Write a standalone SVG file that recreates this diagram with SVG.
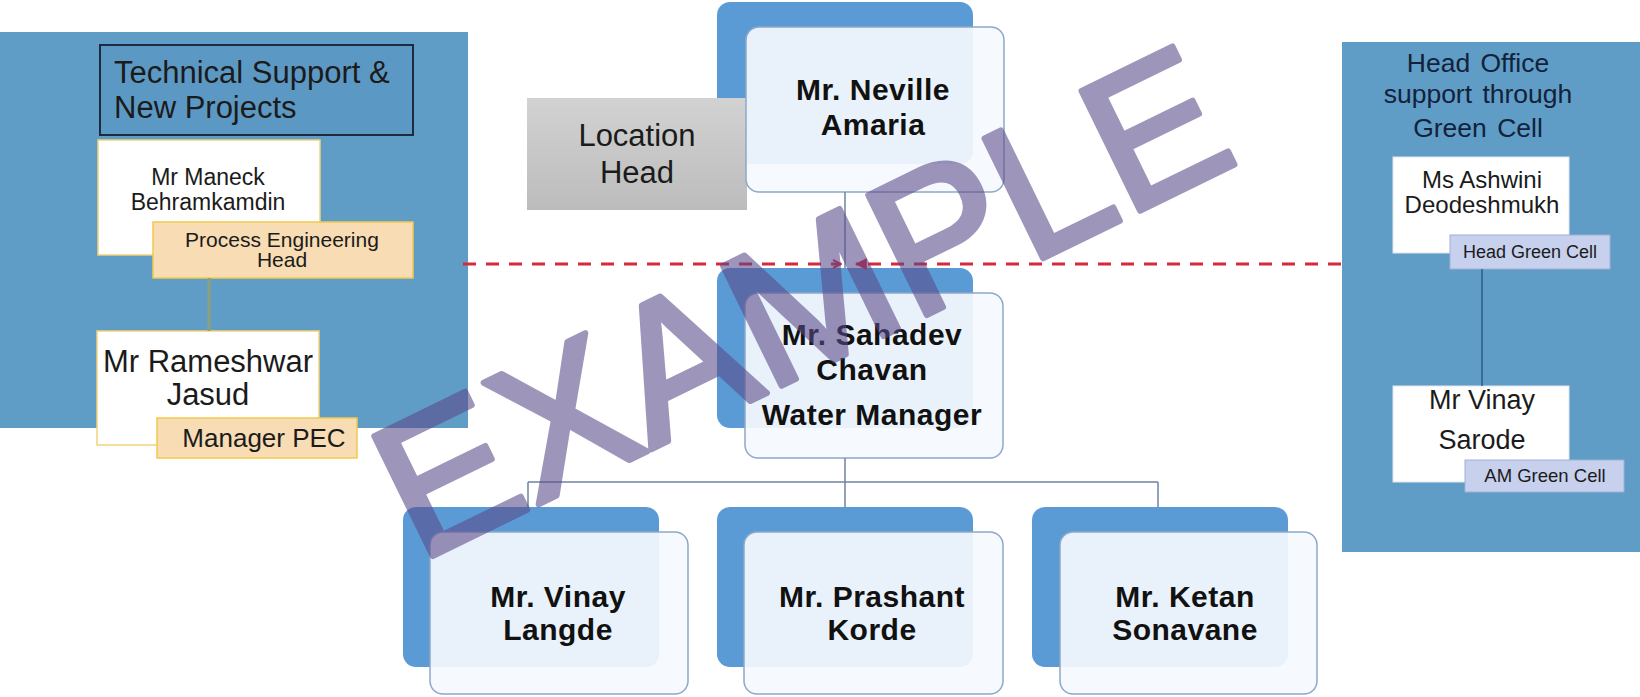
<svg xmlns="http://www.w3.org/2000/svg" width="1640" height="697" viewBox="0 0 1640 697">
  <defs>
    <style>
      .panel { fill: #5f9dc7; }
      .back { fill: #5b9bd5; }
      .front { fill: #f5f9fd; fill-opacity: 0.92; stroke: #8fa8c8; stroke-width: 1.5; }
      .card { fill: #ffffff; stroke: #f2d27a; stroke-width: 1.5; }
      .tag-orange { fill: #f7dcb4; stroke: #f2c94c; stroke-width: 1.5; }
      .tag-lilac { fill: #c7d0ec; stroke: #9fb0d8; stroke-width: 1; }
      .wcard { fill: #ffffff; stroke: #dfe6ef; stroke-width: 1; }
      .sans { font-family: "Liberation Sans", Arial, sans-serif; fill: #1b1b1b; }
      .mid { text-anchor: middle; }
      .bold { font-weight: bold; font-size: 30px; letter-spacing: 0.5px; fill: #111111; }
      .navy { fill: #13223a; word-spacing: 3px; }
      .link { fill: none; stroke: #6d84a3; stroke-width: 1.5; }
      .dash { fill: none; stroke: #d42a3c; stroke-width: 3; stroke-dasharray: 13 10; }
      .dash-shadow { fill: none; stroke: #9a9a9a; stroke-width: 4; stroke-dasharray: 13 10; }
    </style>
    <linearGradient id="grayFill" x1="0" y1="0" x2="0" y2="1">
      <stop offset="0" stop-color="#d2d2d2"/>
      <stop offset="1" stop-color="#bcbcbc"/>
    </linearGradient>
    <filter id="soft" x="-5%" y="-100%" width="110%" height="300%">
      <feGaussianBlur stdDeviation="0.6"/>
    </filter>
    <marker id="chevron" viewBox="0 0 10 10" refX="9" refY="5" markerWidth="10" markerHeight="10" markerUnits="userSpaceOnUse" orient="auto">
      <path d="M1,1 L9,5 L1,9" fill="none" stroke="#d42a3c" stroke-width="2"/>
    </marker>
    <marker id="tri" viewBox="0 0 10 10" refX="9" refY="5" markerWidth="12" markerHeight="12" markerUnits="userSpaceOnUse" orient="auto">
      <path d="M0,0 L10,5 L0,10 Z" fill="#e01e2e"/>
    </marker>
  </defs>

  <rect width="1640" height="697" fill="#ffffff"/>

  <!-- Side panels -->
  <g id="panel-technical">
    <rect class="panel" x="0" y="32" width="468" height="396"/>
    <rect x="100" y="45" width="313" height="90" fill="#5b99c4" stroke="#1c2b3f" stroke-width="2"/>
    <text class="sans" font-size="31" x="114" y="83">Technical Support &amp;</text>
    <text class="sans" font-size="31" x="114" y="118">New Projects</text>
  </g>
  <g id="panel-head-office">
    <rect class="panel" x="1342" y="42" width="298" height="510"/>
    <text class="sans navy mid" font-size="26.5" x="1478" y="72">Head Office</text>
    <text class="sans navy mid" font-size="26.5" x="1478" y="103">support through</text>
    <text class="sans navy mid" font-size="26.5" x="1478" y="137">Green Cell</text>
  </g>

  <!-- Left panel members -->
  <g id="node-maneck">
    <rect class="card" x="98" y="140" width="222" height="115"/>
    <text class="sans mid" font-size="23" x="208" y="185">Mr Maneck</text>
    <text class="sans mid" font-size="23" x="208" y="210">Behramkamdin</text>
    <rect class="tag-orange" x="153" y="222" width="260" height="56"/>
    <text class="sans mid" font-size="21" x="282" y="247">Process Engineering</text>
    <text class="sans mid" font-size="21" x="282" y="267">Head</text>
  </g>
  <g id="node-rameshwar">
    <rect class="card" x="97" y="331" width="222" height="114"/>
    <text class="sans mid" font-size="31" x="208" y="372">Mr Rameshwar</text>
    <text class="sans mid" font-size="31" x="208" y="405">Jasud</text>
    <rect class="tag-orange" x="157" y="418" width="200" height="40"/>
    <text class="sans mid" font-size="26" x="264" y="447">Manager PEC</text>
  </g>

  <!-- Right panel members -->
  <g id="node-ashwini">
    <rect class="wcard" x="1393" y="157" width="176" height="96"/>
    <text class="sans mid" font-size="24" x="1482" y="188">Ms Ashwini</text>
    <text class="sans mid" font-size="24" x="1482" y="213">Deodeshmukh</text>
    <rect class="tag-lilac" x="1450" y="235" width="160" height="34"/>
    <text class="sans mid" font-size="18" x="1530" y="258">Head Green Cell</text>
  </g>
  <g id="node-vinay-sarode">
    <rect class="wcard" x="1393" y="386" width="176" height="96"/>
    <text class="sans mid" font-size="27" x="1482" y="409">Mr Vinay</text>
    <text class="sans mid" font-size="27" x="1482" y="449">Sarode</text>
    <rect class="tag-lilac" x="1465" y="460" width="159" height="32"/>
    <text class="sans mid" font-size="18.5" x="1545" y="482">AM Green Cell</text>
  </g>

  <!-- Location head -->
  <g id="node-neville">
    <rect class="back" x="717" y="2" width="256" height="162" rx="13"/>
    <rect x="527" y="98" width="220" height="112" fill="url(#grayFill)"/>
    <text class="sans mid" font-size="31" x="637" y="146">Location</text>
    <text class="sans mid" font-size="31" x="637" y="183">Head</text>
    <rect class="front" x="746" y="27" width="258" height="165" rx="13"/>
    <text class="sans bold mid" x="873" y="100">Mr. Neville</text>
    <text class="sans bold mid" x="873" y="135">Amaria</text>
  </g>

  <g id="node-sahadev">
    <rect class="back" x="717" y="268" width="256" height="160" rx="13"/>
    <rect class="front" x="745" y="293" width="258" height="165" rx="13"/>
    <text class="sans bold mid" x="872" y="345">Mr. Sahadev</text>
    <text class="sans bold mid" x="872" y="380">Chavan</text>
    <text class="sans bold mid" x="872" y="425">Water Manager</text>
  </g>

  <g id="node-vinay-langde">
    <rect class="back" x="403" y="507" width="256" height="160" rx="13"/>
    <rect class="front" x="430" y="532" width="258" height="162" rx="13"/>
    <text class="sans bold mid" x="558" y="607">Mr. Vinay</text>
    <text class="sans bold mid" x="558" y="640">Langde</text>
  </g>
  <g id="node-prashant">
    <rect class="back" x="717" y="507" width="256" height="160" rx="13"/>
    <rect class="front" x="744" y="532" width="259" height="162" rx="13"/>
    <text class="sans bold mid" x="872" y="607">Mr. Prashant</text>
    <text class="sans bold mid" x="872" y="640">Korde</text>
  </g>
  <g id="node-ketan">
    <rect class="back" x="1032" y="507" width="256" height="160" rx="13"/>
    <rect class="front" x="1060" y="532" width="257" height="162" rx="13"/>
    <text class="sans bold mid" x="1185" y="607">Mr. Ketan</text>
    <text class="sans bold mid" x="1185" y="640">Sonavane</text>
  </g>

  <!-- Reporting lines -->
  <g id="connectors">
    <path class="link" d="M845,192 V268"/>
    <path class="link" d="M845,458 V482 M528,482 H1158 M528,482 V507 M845,482 V507 M1158,482 V507"/>
    <path d="M209,278 V331" fill="none" stroke="#8da07a" stroke-width="3"/>
    <path d="M1482,269 V386" fill="none" stroke="#2d5b8a" stroke-width="1.5"/>
    <g filter="url(#soft)">
      <path class="dash-shadow" d="M463,271 H838"/>
      <path class="dash-shadow" d="M1341,271 H860"/>
    </g>
    <path class="dash" d="M463,264 H841" marker-end="url(#chevron)"/>
    <path class="dash" d="M1341,264 H856" marker-end="url(#tri)"/>
  </g>

  <!-- Watermark -->
  <g opacity="0.58">
    <text font-family="Liberation Sans, Arial, sans-serif" font-size="194" fill="#5a4a8a" stroke="#5a4a8a" stroke-width="6" stroke-linejoin="round" text-anchor="middle" transform="translate(800,300) rotate(-26)" y="69">EXAMPLE</text>
  </g>
</svg>
